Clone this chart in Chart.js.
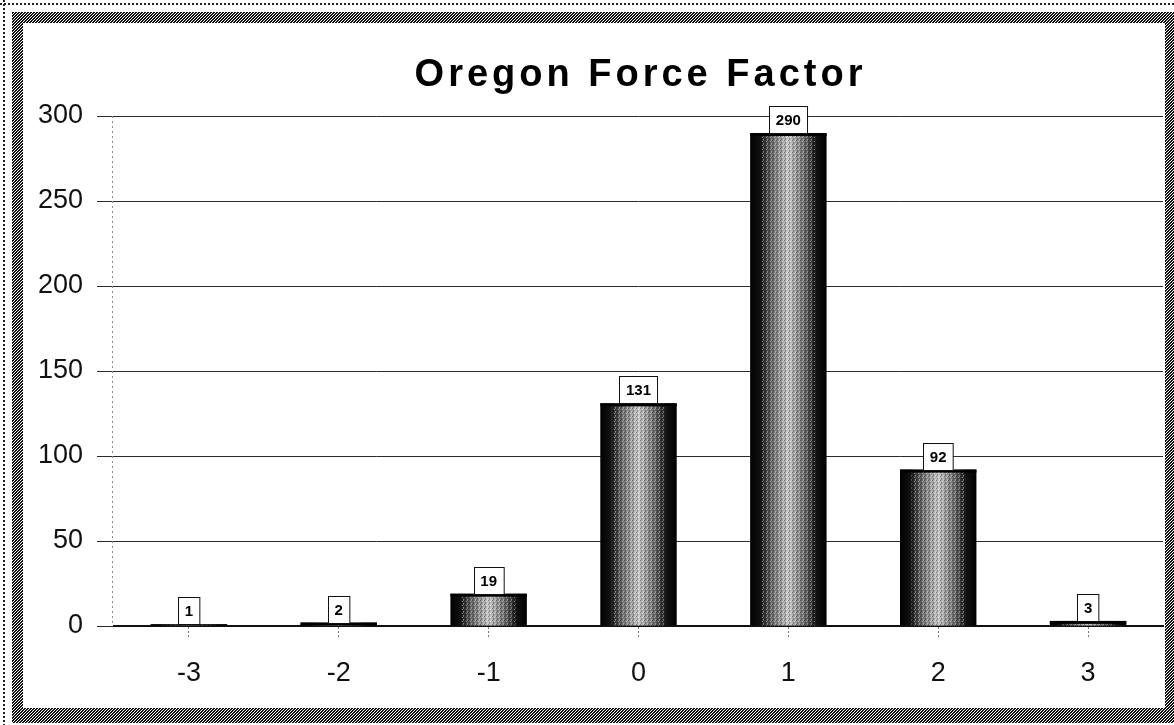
<!DOCTYPE html>
<html>
<head>
<meta charset="utf-8">
<script src="https://cdn.jsdelivr.net/npm/chart.js@4/dist/chart.umd.min.js"></script>
<style>
  html, body { margin: 0; padding: 0; background: #fff; }
  #wrap { width: 1174px; height: 725px; }
</style>
</head>
<body>
<div id="wrap"><canvas id="chart" width="1174" height="725"></canvas></div>
<script>
const titleText = "Oregon Force Factor";
const categories = ["-3", "-2", "-1", "0", "1", "2", "3"];
const counts = [1, 2, 19, 131, 290, 92, 3];
const yMin = 0;
const yMax = 300;
const yStep = 50;

const FONT = '"Liberation Sans", Arial, sans-serif';
const BAR_PCT = 0.51;

// small fixed dot patterns (halftone look of the scan)
const makePattern = (ctx, size, cells) => {
  const p = document.createElement("canvas");
  p.width = size; p.height = size;
  const pc = p.getContext("2d");
  cells.forEach(([x, y, c]) => { pc.fillStyle = c; pc.fillRect(x, y, 1, 1); });
  return ctx.createPattern(p, "repeat");
};

const framePlugin = {
  id: "frame",
  afterDraw(chart) {
    const ctx = chart.ctx;
    const W = chart.width, H = chart.height;
    ctx.save();
    // thin dotted outline
    ctx.strokeStyle = "#222";
    ctx.lineWidth = 2;
    ctx.setLineDash([2, 2]);
    ctx.beginPath();
    ctx.moveTo(0, 4); ctx.lineTo(W, 4);
    ctx.moveTo(4, 0); ctx.lineTo(4, H);
    ctx.stroke();
    ctx.setLineDash([]);
    // thick patterned band
    ctx.fillStyle = makePattern(ctx, 3, [
      [0, 0, "#000"], [1, 0, "#111"], [2, 0, "#fff"],
      [0, 1, "#222"], [1, 1, "#fff"], [2, 1, "#000"],
      [0, 2, "#fff"], [1, 2, "#000"], [2, 2, "#333"]
    ]);
    ctx.fillRect(12, 12, W - 12, 11);
    ctx.fillRect(12, 12, 11, H - 14);
    ctx.fillRect(12, 708, W - 12, 15);
    ctx.fillRect(1165, 12, W - 1165, H - 14);
    ctx.restore();
  }
};

const titlePlugin = {
  id: "letterTitle",
  afterDraw(chart) {
    const ctx = chart.ctx;
    const area = chart.chartArea;
    ctx.save();
    ctx.font = `bold 38px ${FONT}`;
    ctx.letterSpacing = "4px";
    ctx.fillStyle = "#000";
    ctx.textAlign = "center";
    ctx.textBaseline = "alphabetic";
    ctx.fillText(titleText, (area.left + area.right) / 2 + 2, 86);
    ctx.restore();
  }
};

// dotted vertical axis line
const axisPlugin = {
  id: "dottedAxis",
  beforeDatasetsDraw(chart) {
    const { ctx, chartArea } = chart;
    ctx.save();
    ctx.strokeStyle = "#8a8a8a";
    ctx.lineWidth = 1;
    ctx.setLineDash([2, 3]);
    ctx.beginPath();
    ctx.moveTo(chartArea.left - 1.5, chartArea.top);
    ctx.lineTo(chartArea.left - 1.5, chartArea.bottom);
    ctx.stroke();
    ctx.restore();
  }
};

const barShade = c => {
  const chart = c.chart;
  const xs = chart.scales && chart.scales.x;
  if (!xs || !chart.chartArea) return "#888";
  const cx = xs.getPixelForValue(c.dataIndex);
  const half = (xs.width / categories.length) * BAR_PCT / 2;
  const g = chart.ctx.createLinearGradient(cx - half, 0, cx + half, 0);
  g.addColorStop(0, "#000");
  g.addColorStop(0.13, "#111");
  g.addColorStop(0.3, "#6e6e6e");
  g.addColorStop(0.5, "#c6c6c6");
  g.addColorStop(0.7, "#6e6e6e");
  g.addColorStop(0.87, "#111");
  g.addColorStop(1, "#000");
  return g;
};

// speckle texture + dark cap on each bar, then boxed value labels
const labelPlugin = {
  id: "boxLabels",
  afterDatasetsDraw(chart) {
    const ctx = chart.ctx;
    const speck = makePattern(ctx, 4, [
      [0, 0, "rgba(0,0,0,0.35)"], [2, 1, "rgba(255,255,255,0.45)"],
      [1, 2, "rgba(0,0,0,0.3)"], [3, 3, "rgba(255,255,255,0.4)"],
      [3, 0, "rgba(255,255,255,0.3)"], [1, 3, "rgba(0,0,0,0.25)"]
    ]);
    ctx.save();
    chart.getDatasetMeta(0).data.forEach(bar => {
      const half = bar.width / 2;
      const top = bar.y, h = bar.base - bar.y;
      ctx.fillStyle = speck;
      ctx.fillRect(bar.x - half * 0.7, top, half * 1.4, h);
      ctx.fillStyle = "#000";
      ctx.fillRect(bar.x - half, top, bar.width, Math.min(3, h));
    });

    ctx.font = `bold 15px ${FONT}`;
    ctx.textAlign = "center";
    ctx.textBaseline = "middle";
    chart.getDatasetMeta(0).data.forEach((bar, i) => {
      const txt = String(counts[i]);
      const w = ctx.measureText(txt).width + 13;
      const h = 27;
      const x = Math.round(bar.x - w / 2) + 0.5;
      const y = Math.round(bar.y - h) + 0.5;
      ctx.fillStyle = "#fff";
      ctx.fillRect(x, y, w, h);
      ctx.strokeStyle = "#111";
      ctx.lineWidth = 1;
      ctx.strokeRect(x, y, w, h);
      ctx.fillStyle = "#000";
      ctx.fillText(txt, bar.x, y + h / 2 + 1);
    });
    ctx.restore();
  }
};

new Chart(document.getElementById("chart"), {
  type: "bar",
  data: {
    labels: categories,
    datasets: [{
      data: counts,
      backgroundColor: barShade,
      borderWidth: 0,
      barPercentage: BAR_PCT,
      categoryPercentage: 1
    }]
  },
  options: {
    responsive: false,
    animation: false,
    layout: { padding: { top: 116, right: 11, left: 0, bottom: 0 } },
    plugins: {
      legend: { display: false },
      title: { display: false },
      tooltip: { enabled: false }
    },
    scales: {
      x: {
        afterFit: scale => { scale.height = 99; },
        grid: {
          display: true,
          offset: false,
          drawOnChartArea: false,
          tickLength: 12,
          tickColor: "#777",
          tickBorderDash: [2, 2],
          tickWidth: 1
        },
        border: { display: true, color: "#111", width: 2 },
        ticks: {
          color: "#111",
          padding: 19,
          font: { family: FONT, size: 27 }
        }
      },
      y: {
        min: yMin,
        max: yMax,
        afterFit: scale => { scale.width = 114; },
        grid: {
          color: "#2a2a2a",
          lineWidth: 1,
          tickLength: 17
        },
        border: { display: false },
        ticks: {
          stepSize: yStep,
          color: "#111",
          padding: 14,
          font: { family: FONT, size: 27 }
        }
      }
    }
  },
  plugins: [axisPlugin, labelPlugin, titlePlugin, framePlugin]
});
</script>
</body>
</html>
